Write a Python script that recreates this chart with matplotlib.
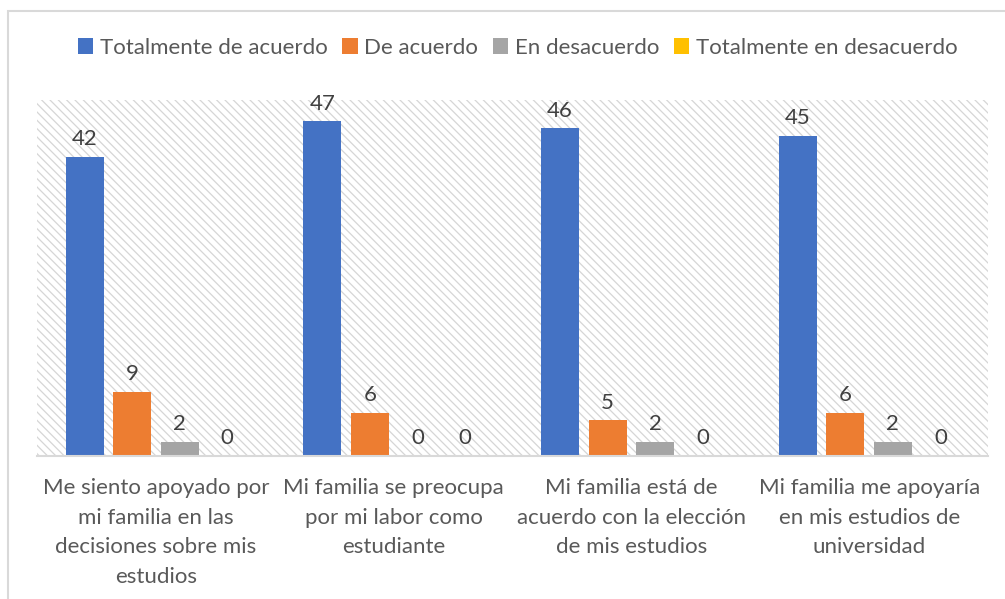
import numpy as np
import matplotlib.pyplot as plt
from matplotlib.patches import Rectangle

plt.rcParams['font.family'] = ['Lato', 'DejaVu Sans']
plt.rcParams['hatch.color'] = '#d6d6d6'
plt.rcParams['hatch.linewidth'] = 0.9

categories = [
    "Me siento apoyado por\nmi familia en las\ndecisiones sobre mis\nestudios",
    "Mi familia se preocupa\npor mi labor como\nestudiante",
    "Mi familia está de\nacuerdo con la elección\nde mis estudios",
    "Mi familia me apoyaría\nen mis estudios de\nuniversidad",
]
series_names = ["Totalmente de acuerdo", "De acuerdo", "En desacuerdo", "Totalmente en desacuerdo"]
totalmente_de_acuerdo = [42, 47, 46, 45]
de_acuerdo = [9, 6, 5, 6]
en_desacuerdo = [2, 0, 2, 2]
totalmente_en_desacuerdo = [0, 0, 0, 0]
colors = ["#4472C4", "#ED7D31", "#A5A5A5", "#FFC000"]

series = [totalmente_de_acuerdo, de_acuerdo, en_desacuerdo, totalmente_en_desacuerdo]

fig = plt.figure(figsize=(10.05, 5.99), dpi=100)
ax = fig.add_axes([37 / 1005, 1 - 456 / 599, (988 - 37) / 1005, (456 - 100) / 599])

# chart frame (extends past the right/bottom edges like the original)
fig.patches.append(Rectangle((8 / 1005, -0.1), 1.2, 1 - 11 / 599 + 0.1, transform=fig.transFigure,
                             fill=False, edgecolor="#d9d9d9", linewidth=1.5, zorder=0))

# hatched plot area
ax.add_patch(Rectangle((0, 0), 1, 1, transform=ax.transAxes, facecolor="white",
                       hatch="\\\\\\\\", edgecolor="#d6d6d6", linewidth=0, zorder=0))

x = np.arange(len(categories))
width = 0.16
offsets = [-0.3, -0.1, 0.1, 0.3]
for vals, name, col, off in zip(series, series_names, colors, offsets):
    bars = ax.bar(x + off, vals, width, color=col, label=name, zorder=2)
    for b, v in zip(bars, vals):
        ax.text(b.get_x() + b.get_width() / 2, v + 1.1, str(v), ha="center", va="bottom",
                fontsize=16, color="#404040")

ax.set_xlim(-0.5, len(categories) - 0.5)
ax.set_ylim(0, 50)
ax.set_yticks([])
ax.set_xticks(x)
ax.set_xticklabels(categories, fontsize=16, color="#595959", linespacing=1.6)
ax.tick_params(axis="x", length=0, pad=16)
for side in ["top", "right", "left"]:
    ax.spines[side].set_visible(False)
ax.spines["bottom"].set_color("#d9d9d9")
ax.spines["bottom"].set_linewidth(1.5)
ax.spines["bottom"].set_zorder(3)

fig.legend(loc="center", bbox_to_anchor=(0.515, 1 - 48 / 599), ncol=4, frameon=False,
           fontsize=16, handlelength=0.7, handleheight=0.7, handletextpad=0.3,
           columnspacing=0.65, labelcolor="#595959")

fig.savefig("out.png", dpi=100)
